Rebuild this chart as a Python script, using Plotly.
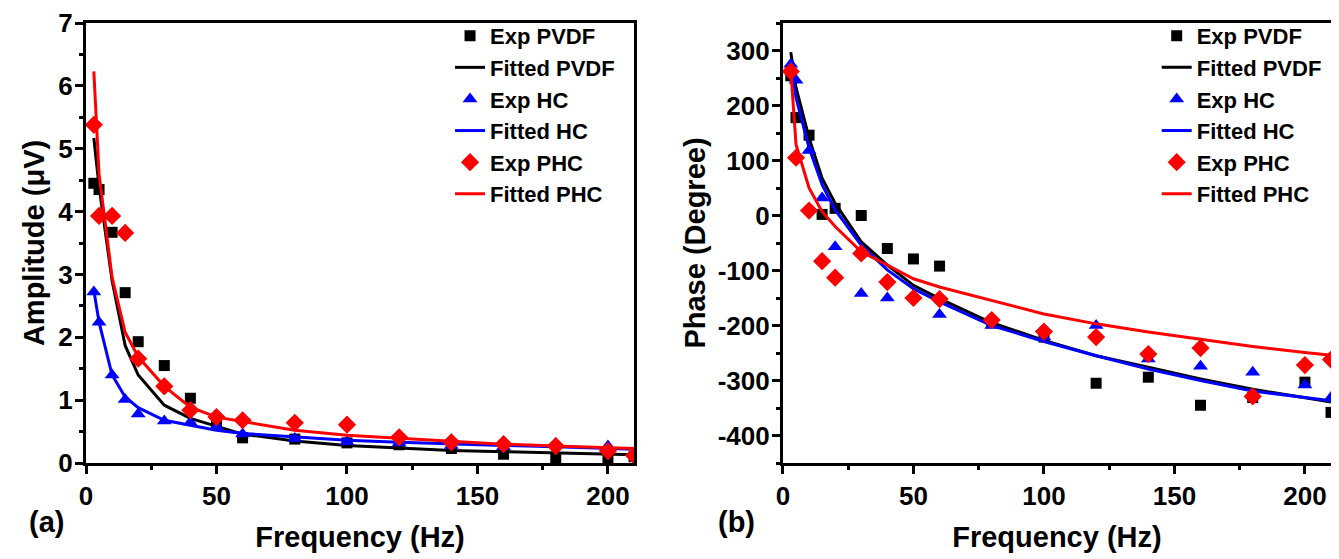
import plotly.graph_objects as go

freq = [3, 5, 10, 15, 20, 30, 40, 50, 60, 80, 100, 120, 140, 160, 180, 200, 210]

# Amplitude (uV)
amp_exp_pvdf = [4.45, 4.35, 3.67, 2.71, 1.93, 1.55, 1.03, 0.62, 0.40, 0.38, 0.32, 0.29, 0.23, 0.14, 0.07, 0.05, 0.10]
amp_fit_pvdf = [5.17, 4.40, 2.90, 1.87, 1.40, 0.92, 0.71, 0.58, 0.46, 0.35, 0.28, 0.24, 0.20, 0.18, 0.16, 0.14, 0.13]
amp_exp_hc = [2.72, 2.24, 1.40, 1.01, 0.78, 0.67, 0.65, 0.58, 0.46, 0.39, 0.34, 0.32, 0.28, 0.26, 0.31, 0.27, 0.13]
amp_fit_hc = [2.75, 2.24, 1.40, 1.05, 0.88, 0.68, 0.60, 0.52, 0.47, 0.41, 0.36, 0.33, 0.30, 0.28, 0.26, 0.24, 0.22]
amp_exp_phc = [5.38, 3.93, 3.93, 3.66, 1.66, 1.22, 0.84, 0.73, 0.68, 0.64, 0.61, 0.41, 0.33, 0.30, 0.27, 0.19, 0.12]
amp_fit_phc = [6.23, 4.60, 2.95, 2.08, 1.69, 1.22, 0.89, 0.73, 0.66, 0.52, 0.44, 0.39, 0.34, 0.30, 0.27, 0.24, 0.23]

# Phase (degree)
ph_exp_pvdf = [254, 178, 146, 2, 13, 0, -60, -79, -92, -195, -221, -305, -294, -345, -331, -303, -358]
ph_fit_pvdf = [297, 233, 141, 68, 22, -48, -90, -127, -151, -195, -227, -255, -276, -297, -316, -331, -339]
ph_exp_hc = [275, 246, 118, 32, -57, -142, -150, -146, -180, -200, -221, -200, -261, -274, -285, -308, -331]
ph_fit_hc = [281, 214, 123, 56, 10, -54, -99, -133, -157, -200, -229, -255, -279, -300, -319, -331, -337]
ph_exp_phc = [262, 105, 9, -83, -113, -69, -121, -150, -152, -190, -211, -221, -252, -241, -329, -272, -262]
ph_fit_phc = [266, 129, 50, 7, -20, -66, -90, -115, -130, -155, -179, -197, -212, -225, -238, -249, -254]

names = ["Exp PVDF", "Fitted PVDF", "Exp HC", "Fitted HC", "Exp PHC", "Fitted PHC"]
x_ticks = [0, 50, 100, 150, 200]
amp_ticks = [0, 1, 2, 3, 4, 5, 6, 7]
ph_ticks = [300, 200, 100, 0, -100, -200, -300, -400]
ph_ticktext = ["300", "200", "100", "0", "-100", "-200", "-300", "-400"]

FONT = "Arial, Liberation Sans, sans-serif"
colors = ["black", "black", "#0000ff", "#0000ff", "#ff0000", "#ff0000"]
symbols = ["square", None, "triangle-up", None, "diamond", None]
msizes = [11, None, 13, None, 14, None]

fig = go.Figure()

def add_set(series, xa, ya, legend):
    for i, (nm, ys) in enumerate(zip(names, series)):
        if symbols[i]:
            fig.add_trace(go.Scatter(
                x=freq, y=ys, name=nm, mode="markers", xaxis=xa, yaxis=ya,
                legend=legend,
                marker=dict(symbol=symbols[i], size=msizes[i], color=colors[i], line=dict(width=0))))
        else:
            fig.add_trace(go.Scatter(
                x=freq, y=ys, name=nm, mode="lines", xaxis=xa, yaxis=ya,
                legend=legend,
                line=dict(color=colors[i], width=3)))

add_set([amp_exp_pvdf, amp_fit_pvdf, amp_exp_hc, amp_fit_hc, amp_exp_phc, amp_fit_phc], "x", "y", "legend")
add_set([ph_exp_pvdf, ph_fit_pvdf, ph_exp_hc, ph_fit_hc, ph_exp_phc, ph_fit_phc], "x2", "y2", "legend2")

tickfont = dict(family=FONT, size=26, color="black", weight="bold")
titlefont = dict(family=FONT, size=29, color="black", weight="bold")
legfont = dict(family=FONT, size=22, color="black", weight="bold")
axis_common = dict(showline=True, linecolor="black", linewidth=3, mirror=True,
                   ticks="outside", ticklen=8, tickwidth=2.5, tickcolor="black",
                   showgrid=False, zeroline=False, tickfont=tickfont, automargin=False)
minor_common = dict(ticks="outside", ticklen=4, tickwidth=2.5, tickcolor="black", showgrid=False)

# The page body has an 8px margin, so the figure is sized/offset to compensate.
W, H = 1331, 551
fig.update_layout(
    width=W, height=H,
    paper_bgcolor="white", plot_bgcolor="white",
    margin=dict(l=78, r=8, t=14, b=96),
    xaxis=dict(domain=[0, 0.4402], range=[0, 210], tickvals=x_ticks,
               minor=dict(dtick=25, **minor_common),
               title=dict(text="Frequency (Hz)", font=titlefont, standoff=17), **axis_common),
    yaxis=dict(range=[0, 7], tickvals=amp_ticks, ticklabelstandoff=-3,
               minor=dict(dtick=0.5, **minor_common),
               title=dict(text="Amplitude (μV)", font=titlefont, standoff=6), **axis_common),
    xaxis2=dict(domain=[0.5598, 1], range=[0, 210], tickvals=x_ticks, anchor="y2",
                minor=dict(dtick=25, **minor_common),
                title=dict(text="Frequency (Hz)", font=titlefont, standoff=17), **axis_common),
    yaxis2=dict(range=[-450, 350], tickvals=ph_ticks, ticktext=ph_ticktext, anchor="x2",
                ticklabelstandoff=-3,
                minor=dict(tickvals=[-450, -350, -250, -150, -50, 50, 150, 250, 350], **minor_common),
                title=dict(text="Phase (Degree)", font=titlefont, standoff=4), **axis_common),
    legend=dict(x=0.2924, y=1.016, xanchor="left", yanchor="top", bgcolor="rgba(0,0,0,0)",
                font=legfont, traceorder="normal"),
    legend2=dict(x=0.860, y=1.016, xanchor="left", yanchor="top", bgcolor="rgba(0,0,0,0)",
                 font=legfont, traceorder="normal"),
)

# panel labels positioned via pixel -> paper conversion (plot area 86..1331 x 22..463 on page)
plot_w = 1245
plot_h = 441
for txt, (px, py) in [("(a)", (46, 522)), ("(b)", (736, 522))]:
    fig.add_annotation(text=txt, x=(px - 86) / plot_w, y=1 - (py - 22) / plot_h,
                       xref="paper", yref="paper", showarrow=False,
                       xanchor="center", yanchor="middle", font=titlefont)

fig.write_html("out.html")
